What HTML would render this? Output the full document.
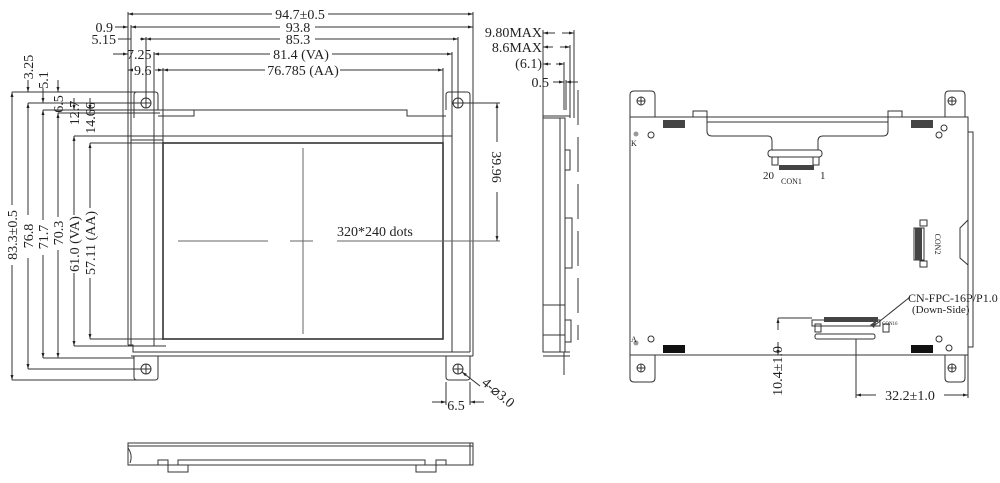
<!DOCTYPE html>
<html><head><meta charset="utf-8"><style>
html,body{margin:0;padding:0;background:#fff;}
svg{display:block;}
text{font-family:"Liberation Serif",serif;fill:#222;}
</style></head><body>
<svg width="1000" height="483" viewBox="0 0 1000 483" xmlns="http://www.w3.org/2000/svg">
<defs>
<marker id="a" viewBox="0 0 10 10" refX="10" refY="5" markerWidth="7" markerHeight="5" orient="auto-start-reverse"><path d="M0,2 L10,5 L0,8z" fill="#222"/></marker>
</defs>
<g stroke="#333" stroke-width="1" fill="none">
<line x1="128" y1="12" x2="128" y2="140"/>
<line x1="473" y1="12" x2="473" y2="118"/>
<line x1="131" y1="25" x2="131" y2="140"/>
<line x1="146" y1="37" x2="146" y2="100"/>
<line x1="458" y1="37" x2="458" y2="100"/>
<line x1="154" y1="52" x2="154" y2="346"/>
<line x1="452" y1="52" x2="452" y2="136"/>
<line x1="163" y1="68" x2="163" y2="143"/>
<line x1="443" y1="68" x2="443" y2="143"/>
<line x1="128" y1="14" x2="272" y2="14" marker-start="url(#a)"/><line x1="328" y1="14" x2="473" y2="14" marker-end="url(#a)"/>
<line x1="115" y1="27" x2="128" y2="27" marker-end="url(#a)"/><line x1="131" y1="27" x2="280" y2="27" marker-start="url(#a)"/><line x1="315" y1="27" x2="473" y2="27" marker-end="url(#a)"/>
<line x1="118" y1="39" x2="131" y2="39"/><line x1="140" y1="39" x2="146" y2="39" marker-end="url(#a)"/><line x1="146" y1="39" x2="280" y2="39" marker-start="url(#a)"/><line x1="315" y1="39" x2="458" y2="39" marker-end="url(#a)"/>
<line x1="113" y1="54" x2="128" y2="54" marker-end="url(#a)"/><line x1="154" y1="54" x2="270" y2="54" marker-start="url(#a)"/><line x1="332" y1="54" x2="452" y2="54" marker-end="url(#a)"/>
<line x1="128" y1="70" x2="133" y2="70" marker-start="url(#a)"/><line x1="155" y1="70" x2="163" y2="70" marker-end="url(#a)"/><line x1="163" y1="70" x2="265" y2="70" marker-start="url(#a)"/><line x1="340" y1="70" x2="443" y2="70" marker-end="url(#a)"/>
<line x1="12" y1="92" x2="150" y2="92"/><line x1="12" y1="380" x2="150" y2="380"/>
<line x1="28" y1="103" x2="146" y2="103"/><line x1="28" y1="369" x2="146" y2="369"/>
<line x1="43" y1="110" x2="200" y2="110"/><line x1="43" y1="358" x2="134" y2="358"/>
<line x1="58" y1="113" x2="160" y2="113"/><line x1="58" y1="358" x2="134" y2="358"/>
<line x1="74" y1="136" x2="131" y2="136"/><line x1="74" y1="346" x2="154" y2="346"/>
<line x1="90" y1="143" x2="163" y2="143"/><line x1="90" y1="339" x2="163" y2="339"/>
<line x1="12" y1="92" x2="12" y2="205" marker-start="url(#a)"/><line x1="12" y1="265" x2="12" y2="380" marker-end="url(#a)"/>
<line x1="28" y1="103" x2="28" y2="215" marker-start="url(#a)"/><line x1="28" y1="258" x2="28" y2="369" marker-end="url(#a)"/>
<line x1="43" y1="110" x2="43" y2="220" marker-start="url(#a)"/><line x1="43" y1="255" x2="43" y2="358" marker-end="url(#a)"/>
<line x1="58" y1="113" x2="58" y2="217" marker-start="url(#a)"/><line x1="58" y1="250" x2="58" y2="358" marker-end="url(#a)"/>
<line x1="74" y1="136" x2="74" y2="215" marker-start="url(#a)"/><line x1="74" y1="273" x2="74" y2="346" marker-end="url(#a)"/>
<line x1="90" y1="143" x2="90" y2="208" marker-start="url(#a)"/><line x1="90" y1="278" x2="90" y2="339" marker-end="url(#a)"/>
<line x1="28" y1="80" x2="28" y2="92" marker-end="url(#a)"/><line x1="43" y1="88" x2="43" y2="103" marker-end="url(#a)"/><line x1="58" y1="80" x2="58" y2="92" marker-end="url(#a)"/>
<line x1="74" y1="98" x2="74" y2="110" marker-end="url(#a)"/><line x1="90" y1="98" x2="90" y2="110" marker-end="url(#a)"/>
<path d="M134,110 L134,95 Q134,92 137,92 L155,92 Q158,92 158,95 L158,110"/>
<path d="M446,110 L446,95 Q446,92 449,92 L467,92 Q470,92 470,95 L470,118"/>
<circle cx="146" cy="103" r="5"/><line x1="141" y1="103" x2="151" y2="103"/><line x1="146" y1="98" x2="146" y2="108"/>
<circle cx="458" cy="103" r="5"/><line x1="453" y1="103" x2="463" y2="103"/><line x1="458" y1="98" x2="458" y2="108"/>
<path d="M134,110 L134,118 M158,110 L194,110 L194,116 L158,116"/>
<path d="M194,110 L407,110 L407,116 L446,116"/>
<line x1="131" y1="136" x2="452" y2="136"/>
<line x1="128" y1="140" x2="128" y2="345"/><line x1="131" y1="140" x2="131" y2="345"/>
<line x1="131" y1="140" x2="163" y2="140"/>
<line x1="163" y1="142" x2="163" y2="340"/>
<rect x="163" y="143" width="280" height="196" stroke-width="1.6"/>
<line x1="443" y1="136" x2="443" y2="143"/>
<line x1="452" y1="136" x2="452" y2="352"/>
<line x1="473" y1="118" x2="473" y2="356"/><line x1="470" y1="118" x2="470" y2="352"/>
<path d="M128,345 L133,345 L133,352 L470,352"/>
<line x1="131" y1="356" x2="473" y2="356"/>
<line x1="154" y1="346" x2="166" y2="346"/>
<path d="M134,356 L134,377 Q134,380 137,380 L155,380 Q158,380 158,377 L158,356"/>
<path d="M446,356 L446,377 Q446,380 449,380 L467,380 Q470,380 470,377 L470,356"/>
<circle cx="146" cy="369" r="5"/><line x1="141" y1="369" x2="151" y2="369"/><line x1="146" y1="364" x2="146" y2="374"/>
<circle cx="458" cy="369" r="5"/><line x1="453" y1="369" x2="463" y2="369"/><line x1="458" y1="364" x2="458" y2="374"/>
<line x1="303" y1="148" x2="303" y2="334" stroke="#666"/>
<line x1="178" y1="241" x2="268" y2="241" stroke="#666"/><line x1="290" y1="241" x2="313" y2="241" stroke="#666"/><line x1="337" y1="241" x2="500" y2="241" stroke="#666"/>
<line x1="463" y1="103" x2="500" y2="103"/>
<line x1="497" y1="103" x2="497" y2="142" marker-start="url(#a)"/><line x1="497" y1="192" x2="497" y2="241" marker-end="url(#a)"/>
<line x1="446" y1="382" x2="446" y2="405"/><line x1="470" y1="382" x2="470" y2="405"/>
<line x1="432" y1="402" x2="446" y2="402" marker-end="url(#a)"/><line x1="484" y1="402" x2="470" y2="402" marker-end="url(#a)"/>
<line x1="480" y1="386" x2="462" y2="372" marker-end="url(#a)"/>
<path d="M128,443 L473,443 L473,465 L128,465 Z"/>
<line x1="128" y1="446" x2="473" y2="446"/>
<line x1="470" y1="443" x2="470" y2="465"/>
<path d="M128,448 Q133,455 130,463"/>
<path d="M158,465 L158,460 L168,460 L168,472 L188,472 L188,465"/>
<path d="M178,465 L178,460 L425,460 L425,465"/>
<path d="M416,465 L416,472 L436,472 L436,460 L446,460 L446,465"/>
<line x1="543" y1="30" x2="543" y2="118"/><line x1="574" y1="30" x2="574" y2="118"/>
<line x1="570" y1="45" x2="570" y2="118"/><line x1="564" y1="62" x2="564" y2="110"/><line x1="566" y1="80" x2="566" y2="110"/>
<line x1="543" y1="33" x2="555" y2="33" marker-start="url(#a)"/><line x1="562" y1="33" x2="574" y2="33" marker-end="url(#a)"/>
<line x1="543" y1="47" x2="553" y2="47" marker-start="url(#a)"/><line x1="560" y1="47" x2="570" y2="47" marker-end="url(#a)"/>
<line x1="543" y1="64" x2="551" y2="64" marker-start="url(#a)"/><line x1="556" y1="64" x2="564" y2="64" marker-end="url(#a)"/>
<line x1="553" y1="82" x2="564" y2="82" marker-end="url(#a)"/><line x1="578" y1="82" x2="566" y2="82" marker-end="url(#a)"/>
<rect x="543" y="118" width="22" height="234"/>
<path d="M543,116 L570,116 M543,352 L570,352 M543,356 L570,356"/>
<line x1="560" y1="118" x2="560" y2="352"/>
<rect x="565" y="150" width="5" height="20"/>
<rect x="565" y="218" width="7" height="50"/>
<rect x="565" y="320" width="6" height="22"/>
<line x1="543" y1="305" x2="565" y2="305"/><line x1="543" y1="335" x2="565" y2="335"/>
<line x1="564" y1="352" x2="564" y2="375"/>
<line x1="578" y1="90" x2="578" y2="340" stroke-dasharray="35,12"/>
<rect x="630" y="117" width="338" height="238"/>
<path d="M630,117 L630,95 Q630,91 634,91 L651,91 Q655,91 655,95 L655,117"/>
<path d="M945,117 L945,95 Q945,91 949,91 L961,91 Q965,91 965,95 L965,117"/>
<path d="M630,355 L630,378 Q630,382 634,382 L651,382 Q655,382 655,378 L655,355"/>
<path d="M945,355 L945,378 Q945,382 949,382 L961,382 Q965,382 965,378 L965,355"/>
<circle cx="641" cy="101" r="4"/><line x1="637" y1="101" x2="645" y2="101"/><line x1="641" y1="97" x2="641" y2="105"/>
<circle cx="952" cy="101" r="4"/><line x1="948" y1="101" x2="956" y2="101"/><line x1="952" y1="97" x2="952" y2="105"/>
<circle cx="641" cy="368" r="4"/><line x1="637" y1="368" x2="645" y2="368"/><line x1="641" y1="364" x2="641" y2="372"/>
<circle cx="952" cy="368" r="4"/><line x1="948" y1="368" x2="956" y2="368"/><line x1="952" y1="364" x2="952" y2="372"/>
<path d="M693,117 L693,111 L707,111 L707,117 M888,117 L888,111 L902,111 L902,117"/>
<path d="M707,111 L707,131 Q707,136 712,136 L768,136 Q772,136 772,141 L772,150 M888,111 L888,131 Q888,136 883,136 L823,136 Q818,136 818,141 L818,150"/>
<line x1="707" y1="122" x2="888" y2="122"/>
<rect x="768" y="150" width="54" height="7" rx="3"/>
<rect x="772" y="157" width="6" height="8"/><rect x="813" y="157" width="6" height="8"/>
<rect x="968" y="132" width="5" height="215"/>
<path d="M968,220 L960,228 L960,258 L968,265"/>
<rect x="914" y="228" width="10" height="32"/>
<rect x="920" y="220" width="7" height="6"/><rect x="920" y="261" width="7" height="6"/>
<rect x="812" y="320" width="68" height="6"/>
<rect x="815" y="334" width="60" height="5" rx="2"/>
<rect x="815" y="324" width="6" height="8"/><rect x="883" y="324" width="6" height="8"/>
<circle cx="651" cy="135" r="3"/><circle cx="651" cy="339" r="3"/><circle cx="939" cy="135" r="3"/><circle cx="944" cy="128" r="3"/><circle cx="939" cy="339" r="3"/><circle cx="949" cy="348" r="3"/>
<line x1="778" y1="318" x2="812" y2="318"/>
<line x1="778" y1="318" x2="778" y2="330" marker-start="url(#a)"/><line x1="778" y1="342" x2="778" y2="355" marker-end="url(#a)"/>
<line x1="856" y1="339" x2="856" y2="398"/><line x1="968" y1="355" x2="968" y2="398"/>
<line x1="856" y1="395" x2="876" y2="395" marker-start="url(#a)"/><line x1="944" y1="395" x2="968" y2="395" marker-end="url(#a)"/>
<line x1="875" y1="325" x2="910" y2="297"/>
</g>
<g fill="#444" stroke="none">
<circle cx="636" cy="134" r="2.5" fill="#999"/><circle cx="636" cy="343" r="2.5" fill="#999"/>
<rect x="663" y="120" width="22" height="8"/><rect x="911" y="120" width="22" height="8"/>
<rect x="663" y="345" width="22" height="8" fill="#111"/><rect x="911" y="345" width="22" height="8" fill="#111"/>
<rect x="779" y="165" width="35" height="5"/>
<rect x="915" y="228" width="7" height="32"/>
<rect x="824" y="317" width="54" height="5"/>
<path d="M870,325 L877,320 L874,328z"/>
</g>
<g font-size="14">
<text x="300" y="19" text-anchor="middle">94.7±0.5</text>
<text x="298" y="32" text-anchor="middle">93.8</text>
<text x="298" y="44" text-anchor="middle">85.3</text>
<text x="301" y="59" text-anchor="middle">81.4 (VA)</text>
<text x="303" y="75" text-anchor="middle">76.785 (AA)</text>
<text x="113" y="32" text-anchor="end">0.9</text>
<text x="116" y="44" text-anchor="end">5.15</text>
<text x="127" y="59">7.25</text>
<text x="134" y="75">9.6</text>
<text x="337" y="236">320*240 dots</text>
<text x="456" y="410" text-anchor="middle">6.5</text>
<text transform="translate(481,384) rotate(40)">4-⌀3.0</text>
<text transform="translate(17,235) rotate(-90)" text-anchor="middle">83.3±0.5</text>
<text transform="translate(33,236) rotate(-90)" text-anchor="middle">76.8</text>
<text transform="translate(48,237) rotate(-90)" text-anchor="middle">71.7</text>
<text transform="translate(63,233) rotate(-90)" text-anchor="middle">70.3</text>
<text transform="translate(79,244) rotate(-90)" text-anchor="middle">61.0 (VA)</text>
<text transform="translate(95,243) rotate(-90)" text-anchor="middle">57.11 (AA)</text>
<text transform="translate(33,67) rotate(-90)" text-anchor="middle">3.25</text>
<text transform="translate(48,80) rotate(-90)" text-anchor="middle">5.1</text>
<text transform="translate(63,104) rotate(-90)" text-anchor="middle">6.5</text>
<text transform="translate(79,113) rotate(-90)" text-anchor="middle">12.7</text>
<text transform="translate(95,118) rotate(-90)" text-anchor="middle">14.66</text>
<text transform="translate(492,167) rotate(90)" text-anchor="middle">39.96</text>
<text x="542" y="37" text-anchor="end">9.80MAX</text>
<text x="542" y="52" text-anchor="end">8.6MAX</text>
<text x="542" y="68" text-anchor="end">(6.1)</text>
<text x="549" y="87" text-anchor="end">0.5</text>
<text transform="translate(782,371) rotate(-90)" text-anchor="middle">10.4±1.0</text>
<text x="910" y="400" text-anchor="middle">32.2±1.0</text>
<text x="908" y="302" font-size="12">CN-FPC-16P/P1.0</text>
<text x="912" y="313" font-size="11">(Down-Side)</text>
<text x="763" y="179" font-size="11">20</text>
<text x="820" y="179" font-size="11">1</text>
</g>
<g font-size="8">
<text x="781" y="184">CON1</text>
<text x="882" y="325" font-size="5">CON16</text>
<text transform="translate(935,244) rotate(90)" text-anchor="middle">CON2</text>
<text x="631" y="146">K</text>
<text x="631" y="342">A</text>
</g>
</svg>
</body></html>
